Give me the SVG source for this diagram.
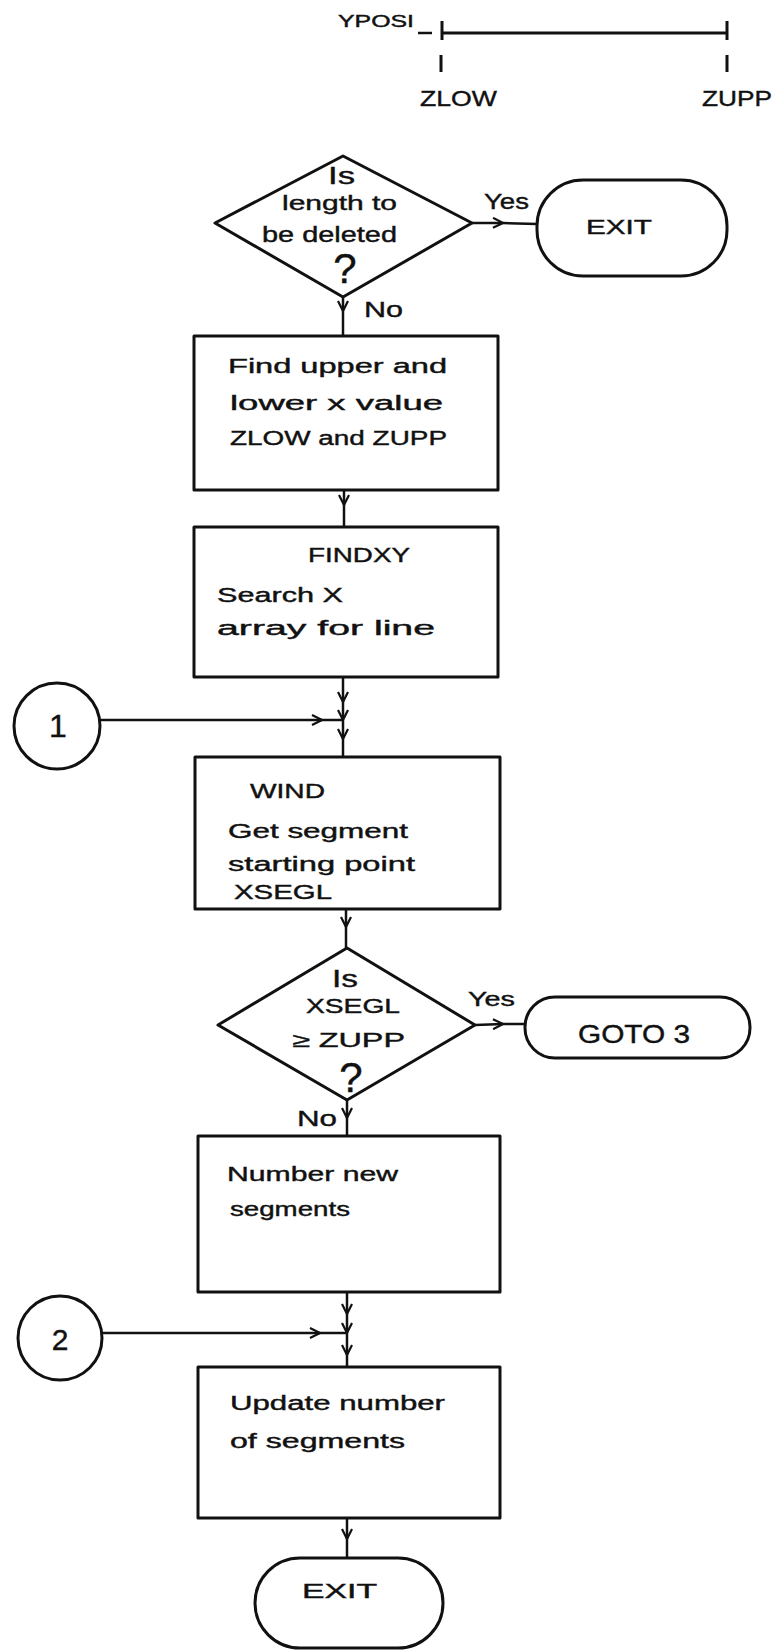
<svg xmlns="http://www.w3.org/2000/svg" width="773" height="1651" viewBox="0 0 773 1651">
<style>
.s{fill:none;stroke:#111;stroke-width:3;stroke-linejoin:round}
.c{fill:none;stroke:#111;stroke-width:2.5}
.t{font-family:"Liberation Sans",Arial,sans-serif;font-size:20px;fill:#111;stroke:#111;stroke-width:0.4}
.m{text-anchor:middle}
</style>
<defs>
<marker id="v" viewBox="0 0 12 12" refX="11" refY="6" markerWidth="12" markerHeight="12" markerUnits="userSpaceOnUse" orient="auto">
<path d="M1,1 L11,6 L1,11" fill="none" stroke="#111" stroke-width="2.2"/>
</marker>
</defs>
<rect width="773" height="1651" fill="#fff"/>

<g id="legend">
<text class="t" x="338" y="27" style="font-size:16px" textLength="76" lengthAdjust="spacingAndGlyphs">YPOSI</text>
<line class="c" x1="418" y1="33" x2="432" y2="33"/>
<line class="s" x1="442" y1="33" x2="727" y2="33"/>
<line class="s" x1="442" y1="21" x2="442" y2="40"/>
<line class="s" x1="727" y1="21" x2="727" y2="40"/>
<line class="s" x1="441" y1="55" x2="441" y2="72"/>
<line class="s" x1="727" y1="55" x2="727" y2="72"/>
<text class="t" x="420" y="106" style="font-size:22px" textLength="77" lengthAdjust="spacingAndGlyphs">ZLOW</text>
<text class="t" x="702" y="106" style="font-size:22px" textLength="70" lengthAdjust="spacingAndGlyphs">ZUPP</text>
</g>

<g id="connectors">
<path class="c" d="M472,223 L503,223 L537,224" marker-mid="url(#v)"/>
<path class="c" d="M343,297 L343,311 L343,335" marker-mid="url(#v)"/>
<path class="c" d="M344,490 L344,505 L344,527" marker-mid="url(#v)"/>
<path class="c" d="M343,677 L343,702 L343,720 L343,739 L343,757" marker-mid="url(#v)"/>
<path class="c" d="M100,720 L322,720 L343,720" marker-mid="url(#v)"/>
<path class="c" d="M346,909 L346,927 L346,948" marker-mid="url(#v)"/>
<path class="c" d="M475,1025 L503,1024 L525,1024" marker-mid="url(#v)"/>
<path class="c" d="M347,1100 L347,1118 L347,1136" marker-mid="url(#v)"/>
<path class="c" d="M347,1292 L347,1314 L347,1333 L347,1355 L347,1367" marker-mid="url(#v)"/>
<path class="c" d="M102,1333 L320,1333 L347,1333" marker-mid="url(#v)"/>
<path class="c" d="M347,1518 L347,1539 L347,1558" marker-mid="url(#v)"/>
<text class="t" x="484" y="209" style="font-size:22px" textLength="45" lengthAdjust="spacingAndGlyphs">Yes</text>
<text class="t" x="364" y="317" style="font-size:22px" textLength="39" lengthAdjust="spacingAndGlyphs">No</text>
<text class="t" x="468" y="1006" textLength="47" lengthAdjust="spacingAndGlyphs">Yes</text>
<text class="t" x="297" y="1126" style="font-size:22px" textLength="40" lengthAdjust="spacingAndGlyphs">No</text>
</g>

<g id="decision1">
<polygon class="s" points="343,156 472,223 343,297 215,223"/>
<text class="t" x="328" y="184" style="font-size:24px" textLength="27" lengthAdjust="spacingAndGlyphs">Is</text>
<text class="t" x="282" y="210" textLength="115" lengthAdjust="spacingAndGlyphs">length to</text>
<text class="t" x="262" y="242" style="font-size:22px" textLength="135" lengthAdjust="spacingAndGlyphs">be deleted</text>
<text class="t m" x="345" y="283" style="font-size:42px">?</text>
</g>

<g id="exit1">
<rect class="s" x="537" y="180" width="190" height="96" rx="46"/>
<text class="t" x="586" y="234" textLength="66" lengthAdjust="spacingAndGlyphs">EXIT</text>
</g>

<g id="box1">
<rect class="s" x="194" y="336" width="304" height="154"/>
<text class="t" x="228" y="373" textLength="219" lengthAdjust="spacingAndGlyphs">Find upper and</text>
<text class="t" x="230" y="410" textLength="213" lengthAdjust="spacingAndGlyphs">lower  x value</text>
<text class="t" x="230" y="445" textLength="217" lengthAdjust="spacingAndGlyphs">ZLOW and ZUPP</text>
</g>

<g id="box2">
<rect class="s" x="194" y="527" width="304" height="150"/>
<text class="t" x="308" y="562" textLength="102" lengthAdjust="spacingAndGlyphs">FINDXY</text>
<text class="t" x="217" y="602" textLength="126" lengthAdjust="spacingAndGlyphs">Search X</text>
<text class="t" x="217" y="635" textLength="218" lengthAdjust="spacingAndGlyphs">array for line</text>
</g>

<g id="connector1">
<circle class="s" cx="57" cy="726" r="43"/>
<text class="t m" x="58" y="737" style="font-size:32px">1</text>
</g>

<g id="box3">
<rect class="s" x="195" y="757" width="305" height="152"/>
<text class="t" x="250" y="798" textLength="75" lengthAdjust="spacingAndGlyphs">WIND</text>
<text class="t" x="228" y="838" textLength="180" lengthAdjust="spacingAndGlyphs">Get segment</text>
<text class="t" x="228" y="871" textLength="187" lengthAdjust="spacingAndGlyphs">starting point</text>
<text class="t" x="234" y="899" textLength="98" lengthAdjust="spacingAndGlyphs">XSEGL</text>
</g>

<g id="decision2">
<polygon class="s" points="347,948 475,1025 347,1100 218,1025"/>
<text class="t" x="332" y="987" style="font-size:24px" textLength="26" lengthAdjust="spacingAndGlyphs">Is</text>
<text class="t" x="306" y="1013" textLength="94" lengthAdjust="spacingAndGlyphs">XSEGL</text>
<text class="t" x="292" y="1047" textLength="113" lengthAdjust="spacingAndGlyphs">≥ ZUPP</text>
<text class="t m" x="351" y="1092" style="font-size:42px">?</text>
</g>

<g id="goto3">
<rect class="s" x="525" y="997" width="225" height="61" rx="30"/>
<text class="t" x="578" y="1043" style="font-size:25px" textLength="112" lengthAdjust="spacingAndGlyphs">GOTO 3</text>
</g>

<g id="box4">
<rect class="s" x="198" y="1136" width="302" height="156"/>
<text class="t" x="227" y="1181" textLength="171" lengthAdjust="spacingAndGlyphs">Number new</text>
<text class="t" x="230" y="1216" textLength="120" lengthAdjust="spacingAndGlyphs">segments</text>
</g>

<g id="connector2">
<circle class="s" cx="60" cy="1338" r="42"/>
<text class="t m" x="60" y="1350" style="font-size:30px">2</text>
</g>

<g id="box5">
<rect class="s" x="198" y="1367" width="302" height="151"/>
<text class="t" x="230" y="1410" textLength="215" lengthAdjust="spacingAndGlyphs">Update number</text>
<text class="t" x="230" y="1448" textLength="175" lengthAdjust="spacingAndGlyphs">of segments</text>
</g>

<g id="exit2">
<rect class="s" x="255" y="1558" width="188" height="90" rx="45"/>
<text class="t" x="302" y="1598" textLength="75" lengthAdjust="spacingAndGlyphs">EXIT</text>
</g>
</svg>
